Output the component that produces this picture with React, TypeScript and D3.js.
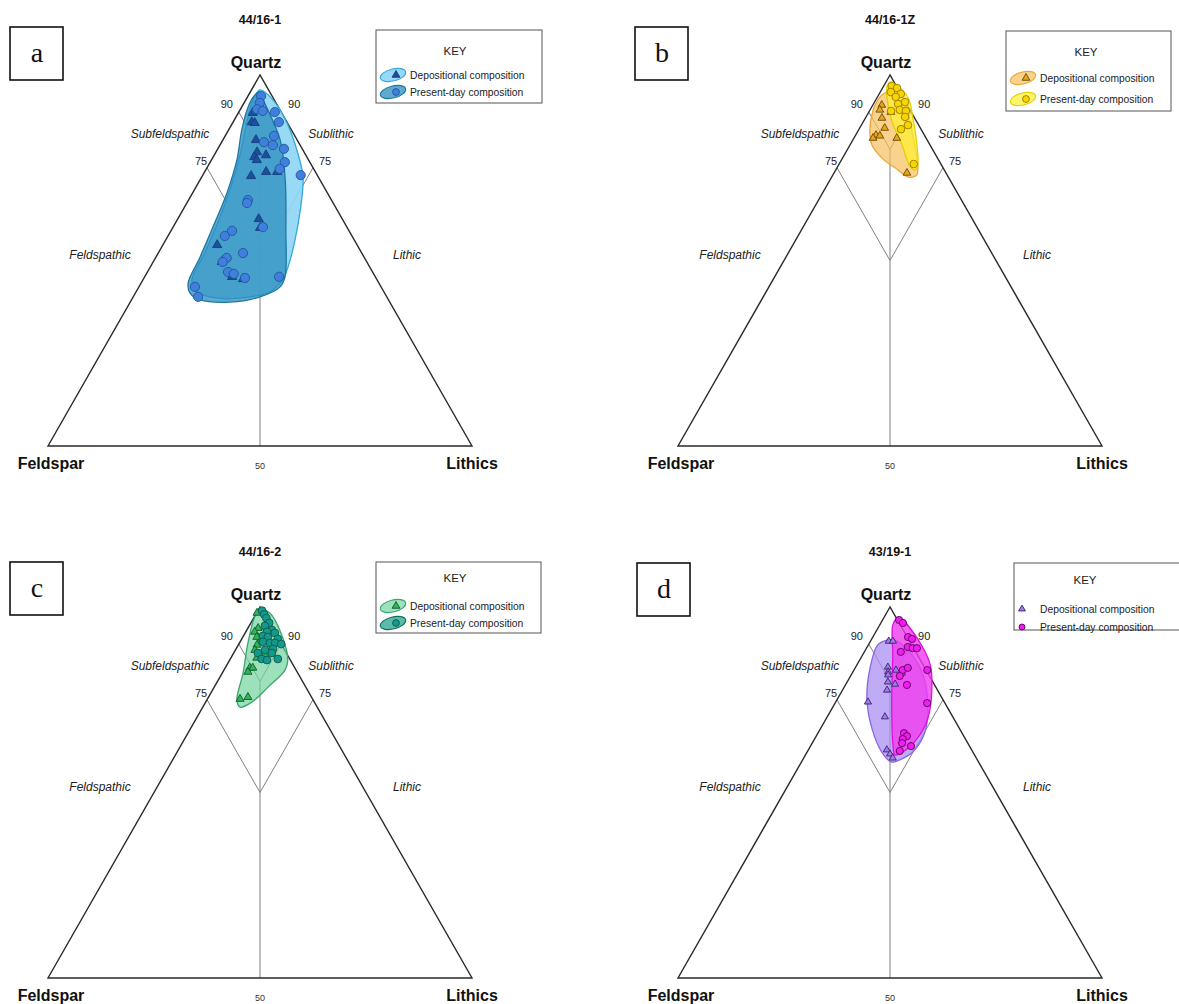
import React from 'react';
import * as d3 from 'd3';

type Tern = [number, number, number]; // Quartz %, Feldspar %, Lithics %

const titles = ['44/16-1', '44/16-1Z', '44/16-2', '43/19-1'];
const panelLetters = ['a', 'b', 'c', 'd'];
const legendLabels = ['Depositional composition', 'Present-day composition'];
const vertexLabels = ['Quartz', 'Feldspar', 'Lithics'];
const fieldLabels = ['Subfeldspathic', 'Sublithic', 'Feldspathic', 'Lithic'];
const tickLabels = ['90', '75', '50'];

// ---- Panel a: 44/16-1 ----
const aDepositional: Tern[] = [
  [89.8, 6.8, 3.4], [87.3, 8.3, 4.4], [87.1, 7.7, 5.2], [82.5, 9.7, 7.8], [79.2, 11.1, 9.7],
  [77.9, 12.4, 9.7], [77.1, 12.2, 10.7], [78.4, 9.4, 12.2], [73.9, 11.6, 14.5], [73.9, 9.0, 17.1],
  [72.8, 15.7, 11.5], [61.2, 19.7, 19.1], [58.8, 20.6, 20.6], [54.2, 33.0, 12.8], [49.6, 34.2, 16.2],
  [45.6, 33.8, 20.6], [45.0, 31.5, 23.5],
];
const aPresent: Tern[] = [
  [94.3, 2.6, 3.1], [92.5, 3.8, 3.7], [90.8, 5.3, 3.9], [90.3, 4.2, 5.5], [90.0, 1.5, 8.5],
  [87.3, 1.9, 10.8], [83.6, 4.9, 11.5], [81.9, 8.1, 10.0], [81.1, 6.4, 12.5], [80.1, 4.3, 15.6],
  [76.5, 5.9, 17.6], [74.7, 8.0, 17.3], [73.0, 3.9, 23.1], [66.3, 19.7, 14.0], [65.5, 20.3, 14.2],
  [59.0, 19.8, 21.2], [58.0, 27.6, 14.4], [56.6, 30.0, 13.4], [52.0, 28.0, 20.0], [50.7, 32.5, 16.8],
  [49.6, 34.0, 16.4], [46.9, 34.1, 19.0], [46.4, 33.0, 20.6], [45.3, 30.9, 23.8], [45.6, 22.7, 31.7],
  [42.9, 43.9, 13.2], [40.2, 44.5, 15.3],
];
const aDepEnvelope: Tern[] = [
  [96, 2, 2], [93.3, 0.3, 6.4], [87.1, 0.1, 12.8], [79, 1.6, 19.4], [72.5, 3.6, 23.9],
  [64.4, 8.2, 27.4], [55.5, 14, 30.5], [48.2, 19.3, 32.5], [44.7, 22.4, 32.9], [41.5, 26.9, 31.6],
  [40.4, 31, 28.6], [39.9, 40.6, 19.5], [42, 44.3, 13.7], [44.7, 43.7, 11.6], [52.3, 36.8, 10.9],
  [60.4, 29.7, 9.9], [69, 22.6, 8.4], [78.4, 15.5, 6.1], [86.5, 10, 3.5], [92.7, 5.5, 1.8],
];
const aPresentEnvelope: Tern[] = [
  [95.4, 2.3, 2.3], [93.3, 2.6, 4.1], [82.5, 4, 13.5], [71.7, 8.2, 20.1], [58.2, 14.8, 27],
  [45.6, 21.3, 33.1], [42.9, 23.8, 33.3], [40.2, 29.9, 29.9], [38.8, 37.7, 23.5], [39.4, 44.4, 16.2],
  [41.2, 45.9, 12.9], [43.9, 45, 11.1], [50.9, 38.7, 10.4], [59, 31.6, 9.4], [68.2, 23.7, 8.1],
  [77.1, 16.9, 6], [85.2, 11.7, 3.1], [91.4, 7.1, 1.5], [94.6, 3.9, 1.5],
];

// ---- Panel b: 44/16-1Z ----
const bDepositional: Tern[] = [
  [91.9, 6.0, 2.1], [90.6, 7.1, 2.3], [90.0, 4.8, 5.2], [88.4, 7.7, 3.9], [85.7, 8.4, 5.9],
  [83.8, 11.4, 4.8], [83.6, 10.6, 5.8], [83.0, 12.5, 4.5], [83.0, 6.9, 10.1], [73.6, 9.2, 17.2],
];
const bPresent: Tern[] = [
  [97.0, 1.1, 1.9], [96.5, 0.1, 3.4], [95.4, 2.1, 2.5], [94.9, 0, 5.1], [94.1, 1.6, 4.3],
  [92.7, 0.1, 7.2], [92.2, 2.0, 5.8], [90.3, 4.6, 5.1], [90.6, 2.4, 7.0], [90.3, 1.1, 8.6],
  [88.7, 2.1, 9.2], [86.5, 2.5, 11.0], [85.4, 4.7, 9.9], [76.0, 6.4, 17.6],
];
const bDepEnvelope: Tern[] = [
  [95.1, 3.7, 1.2], [95.7, 1.0, 3.3], [93, 0, 7], [87.6, 1.5, 10.9], [81.1, 3.6, 15.3],
  [75.5, 5.7, 18.8], [73, 7.2, 19.8], [72.5, 9.5, 18], [74.4, 10.9, 14.7], [77.6, 13.1, 9.3],
  [81.1, 13.7, 5.2], [84.9, 12.3, 2.8], [90.3, 8.9, 0.8], [94.1, 5.3, 0.6],
];
const bPresentEnvelope: Tern[] = [
  [98.1, 1.0, 0.9], [97.5, 0, 2.5], [93.8, -1.2, 7.4], [88.4, 0.4, 11.2], [81.1, 3.1, 15.8],
  [75.7, 5.6, 18.7], [74.4, 6.9, 18.7], [75.5, 7.6, 16.9], [81.1, 6.6, 12.3], [87.6, 5.8, 6.6],
  [93.8, 3.8, 2.4], [97, 2.2, 0.8],
];

// ---- Panel c: 44/16-2 ----
const cDepositional: Tern[] = [
  [98.4, 1.5, 0.1], [94.3, 3.3, 2.4], [93.3, 4.6, 2.1], [91.9, 4.8, 3.3], [90.6, 4.7, 4.7],
  [89.8, 5.8, 4.4], [88.4, 7.0, 4.6], [87.1, 5.3, 7.6], [86.3, 7.6, 6.1], [83.6, 10.6, 5.8],
  [83.6, 9.9, 6.5], [82.5, 11.6, 5.9], [75.7, 15.0, 9.3], [75.2, 17.1, 7.7],
];
const cPresent: Tern[] = [
  [99, 0, 1], [98, 0, 2], [97, 0, 3], [95.7, 0, 4.3], [94.9, 1.4, 3.7],
  [93.8, 0.3, 5.9], [93.3, 1.7, 5.0], [93, 0, 7], [92.2, 3.2, 4.6], [91.9, 2.2, 5.9],
  [91.4, 0.1, 8.5], [90.6, 4.0, 5.4], [90.3, 2.5, 7.2], [90.3, 1.3, 8.4], [90, 0, 10],
  [88.7, 2.6, 8.7], [88.4, 4.6, 7.0], [87.6, 6.7, 5.7], [87.6, 3.4, 9.0], [86, 6.6, 7.4],
  [85.7, 5.5, 8.8], [86, 2.8, 11.2],
];
const cDepEnvelope: Tern[] = [
  [99.2, 0.4, 0.4], [98.4, -1.5, 3.1], [91.6, -1.2, 9.6], [85.7, 0.6, 13.7], [83, 2.6, 14.4],
  [78.4, 8.9, 12.7], [74.4, 14.7, 10.9], [73, 18.2, 8.8], [74.9, 18.0, 7.1], [82.2, 12.9, 4.9],
  [90.3, 7.7, 2], [97.3, 2.6, 0.1],
];

// ---- Panel d: 43/19-1 ----
const dDepositional: Tern[] = [
  [90.8, 4.9, 4.3], [90.8, 3.9, 5.3], [83.8, 8.6, 7.6], [82.5, 9.2, 8.3], [81.7, 9.6, 8.7],
  [83, 7.1, 9.9], [82.2, 6.1, 11.7], [79.8, 10.6, 9.6], [79.2, 9.2, 11.6], [77.6, 11.9, 10.5],
  [74.4, 18, 7.6], [70.4, 16, 13.6], [61.5, 20.0, 18.5], [60.4, 19.8, 19.8], [59.3, 19.7, 21.0],
];
const dPresent: Tern[] = [
  [96.5, -0.4, 3.9], [95.7, -0.9, 5.2], [91.9, -0.2, 8.3], [91.4, -0.9, 9.5], [89.2, 1.2, 9.6],
  [88.9, 0.2, 10.9], [88.9, -0.8, 11.9], [87.9, 3.5, 8.6], [83, -0.3, 17.3], [83, 5.5, 11.5],
  [83.6, 4.0, 12.4], [81.4, 7.0, 11.6], [79, 6.5, 14.5], [74.1, 4.2, 21.7], [66, 13.7, 20.3],
  [65.2, 13.4, 21.4], [64.4, 14.8, 20.8], [62.5, 13.8, 23.7], [63.3, 15.5, 21.2], [61.2, 17.1, 21.7],
];
const dDepEnvelope: Tern[] = [
  [91.1, 5.2, 3.7], [91.1, 3.3, 5.6], [88.4, 1.6, 10.0], [82.5, 1.2, 16.3], [74.4, 3.9, 21.7],
  [66.3, 8.6, 25.1], [60.9, 14.2, 24.9], [58.8, 18.3, 22.9], [58.2, 20.5, 21.3], [60.9, 21.5, 17.6],
  [67.4, 20.6, 12.0], [75.5, 17.7, 6.8], [83.6, 12.9, 3.5], [89.8, 8.0, 2.2],
];
const dPresentEnvelope: Tern[] = [
  [97, -0.2, 3.2], [97, -0.9, 3.9], [91.6, -2.2, 10.6], [84.4, -1.7, 17.3], [77.1, 1.6, 21.3],
  [70.1, 6, 23.9], [64.7, 11.1, 24.2], [60.9, 16.5, 22.6], [60.1, 18.8, 21.1], [62.8, 17.9, 19.3],
  [73.6, 12.8, 13.6], [87.1, 5.8, 7.1], [95.1, 1.8, 3.1],
];

// Classification boundaries (ternary)
const triangleOutline: Tern[] = [[100, 0, 0], [0, 100, 0], [0, 0, 100]];
const boundaries: [Tern, Tern][] = [
  [[90, 10, 0], [80, 10, 10]],
  [[90, 0, 10], [80, 10, 10]],
  [[75, 25, 0], [50, 25, 25]],
  [[75, 0, 25], [50, 25, 25]],
  [[80, 10, 10], [0, 50, 50]],
];

// ---- geometry (panel-local coordinates) ----
const APEX_Y = 75, BASE_Y = 446, CX = 260, HALF = 212;
const yScale = d3.scaleLinear().domain([0, 100]).range([BASE_Y, APEX_Y]);
const xScale = d3.scaleLinear().domain([-100, 100]).range([CX - HALF, CX + HALF]);
const px = (t: Tern) => xScale(t[2] - t[1]);
const py = (t: Tern) => yScale(t[0]);
const envLine = d3.line<Tern>().x(px).y(py).curve(d3.curveCatmullRomClosed.alpha(0.5));
const polyLine = d3.line<Tern>().x(px).y(py);

interface Style {
  depFill: string; depOp: number; depStroke: string;
  presFill: string; presOp: number; presStroke: string;
  triFill: string; triStroke: string; cirFill: string; cirStroke: string;
  r: number; tri: number;
}

interface PanelCfg {
  ox: number; oy: number; idx: number;
  dep: Tern[]; pres: Tern[]; depEnv: Tern[] | null; presEnv: Tern[] | null;
  style: Style;
  letterBox: [number, number];
  legend: { x: number; y: number; w: number; h: number; keyY: number; keyX: number; rows: [number, number]; swatch: boolean; textX: number };
}

const panels: PanelCfg[] = [
  {
    ox: 0, oy: 0, idx: 0, dep: aDepositional, pres: aPresent, depEnv: aDepEnvelope, presEnv: aPresentEnvelope,
    style: {
      depFill: '#8fd6f4', depOp: 0.92, depStroke: '#35a9dd',
      presFill: '#2a8cbd', presOp: 0.75, presStroke: '#1d77a3',
      triFill: '#1d4f9e', triStroke: '#173d7a', cirFill: '#3f80dc', cirStroke: '#24539f', r: 4.6, tri: 36,
    },
    letterBox: [10, 27],
    legend: { x: 376, y: 30, w: 166, h: 73, keyY: 55, keyX: 455, rows: [75, 92], swatch: true, textX: 410 },
  },
  {
    ox: 630, oy: 0, idx: 1, dep: bDepositional, pres: bPresent, depEnv: bDepEnvelope, presEnv: bPresentEnvelope,
    style: {
      depFill: '#f6bf5e', depOp: 0.7, depStroke: '#e8a838',
      presFill: '#fff02e', presOp: 0.7, presStroke: '#e2d000',
      triFill: '#e8a41c', triStroke: '#6b4a00', cirFill: '#f7d600', cirStroke: '#9a7a00', r: 3.8, tri: 26,
    },
    letterBox: [5, 27],
    legend: { x: 376, y: 31, w: 165, h: 80, keyY: 56, keyX: 456, rows: [78, 99], swatch: true, textX: 410 },
  },
  {
    ox: 0, oy: 532, idx: 2, dep: cDepositional, pres: cPresent, depEnv: cDepEnvelope, presEnv: null,
    style: {
      depFill: '#74d39f', depOp: 0.7, depStroke: '#3aa56c',
      presFill: '#1a9c84', presOp: 0.7, presStroke: '#0f6e5c',
      triFill: '#2fb657', triStroke: '#11582a', cirFill: '#14998a', cirStroke: '#0c5a50', r: 3.9, tri: 28,
    },
    letterBox: [10, 30],
    legend: { x: 376, y: 30, w: 165, h: 71, keyY: 50, keyX: 455, rows: [74, 91], swatch: true, textX: 410 },
  },
  {
    ox: 630, oy: 532, idx: 3, dep: dDepositional, pres: dPresent, depEnv: dDepEnvelope, presEnv: dPresentEnvelope,
    style: {
      depFill: '#a88cf2', depOp: 0.72, depStroke: '#8a66e6',
      presFill: '#f03cf0', presOp: 0.8, presStroke: '#e010e0',
      triFill: '#a37ae6', triStroke: '#3a2070', cirFill: '#f01cf0', cirStroke: '#5a005a', r: 3.6, tri: 22,
    },
    letterBox: [7, 31],
    legend: { x: 384, y: 31, w: 175, h: 67, keyY: 52, keyX: 455, rows: [77, 95], swatch: false, textX: 410 },
  },
];

const FONT = 'Arial, "Liberation Sans", Helvetica, sans-serif';

function Triangle({ x, y, size, fill, stroke }: { x: number; y: number; size: number; fill: string; stroke: string }) {
  const d = d3.symbol().type(d3.symbolTriangle).size(size)() as string;
  return <path d={d} transform={`translate(${x},${y})`} fill={fill} stroke={stroke} strokeWidth={0.9} />;
}

function Panel({ cfg }: { cfg: PanelCfg }) {
  const s = cfg.style;
  const lg = cfg.legend;
  const q90: Tern = [90, 10, 0];
  const q90r: Tern = [90, 0, 10];
  const q75: Tern = [75, 25, 0];
  const q75r: Tern = [75, 0, 25];
  return (
    <g transform={`translate(${cfg.ox},${cfg.oy})`}>
      {/* title */}
      <text x={CX} y={24} textAnchor="middle" fontFamily={FONT} fontWeight="bold" fontSize={12.5} fill="#111">
        {titles[cfg.idx]}
      </text>
      {/* letter box */}
      <rect x={cfg.letterBox[0]} y={cfg.letterBox[1]} width={53} height={53} fill="#fff" stroke="#111" strokeWidth={1.6} />
      <text x={cfg.letterBox[0] + 27} y={cfg.letterBox[1] + 35} textAnchor="middle"
        fontFamily='"Liberation Serif", "DejaVu Serif", serif' fontSize={28} fill="#111">
        {panelLetters[cfg.idx]}
      </text>

      {/* classification boundaries */}
      {boundaries.map((b, i) => (
        <line key={i} x1={px(b[0])} y1={py(b[0])} x2={px(b[1])} y2={py(b[1])} stroke="#808080" strokeWidth={1} />
      ))}
      {/* triangle */}
      <path d={polyLine(triangleOutline) + 'Z'} fill="none" stroke="#2a2a2a" strokeWidth={1.4} strokeLinejoin="miter" />

      {/* envelopes */}
      {cfg.depEnv && (
        <path d={envLine(cfg.depEnv) as string} fill={s.depFill} fillOpacity={s.depOp} stroke={s.depStroke} strokeWidth={1.3} />
      )}
      {cfg.presEnv && (
        <path d={envLine(cfg.presEnv) as string} fill={s.presFill} fillOpacity={s.presOp} stroke={s.presStroke} strokeWidth={1.3} />
      )}

      {/* points */}
      {cfg.dep.map((t, i) => (
        <Triangle key={'t' + i} x={px(t)} y={py(t)} size={s.tri} fill={s.triFill} stroke={s.triStroke} />
      ))}
      {cfg.pres.map((t, i) => (
        <circle key={'c' + i} cx={px(t)} cy={py(t)} r={s.r} fill={s.cirFill} stroke={s.cirStroke} strokeWidth={0.9} />
      ))}

      {/* vertex labels */}
      <text x={256} y={68} textAnchor="middle" fontFamily={FONT} fontWeight="bold" fontSize={16} fill="#111">{vertexLabels[0]}</text>
      <text x={51} y={469} textAnchor="middle" fontFamily={FONT} fontWeight="bold" fontSize={16} fill="#111">{vertexLabels[1]}</text>
      <text x={472} y={469} textAnchor="middle" fontFamily={FONT} fontWeight="bold" fontSize={16} fill="#111">{vertexLabels[2]}</text>
      <text x={CX} y={469} textAnchor="middle" fontFamily={FONT} fontSize={9} fill="#333">{tickLabels[2]}</text>

      {/* tick labels */}
      <text x={px(q90) - 12} y={py(q90) - 4} textAnchor="middle" fontFamily={FONT} fontSize={11} fill="#222">{tickLabels[0]}</text>
      <text x={px(q90r) + 13} y={py(q90r) - 4} textAnchor="middle" fontFamily={FONT} fontSize={11} fill="#222">{tickLabels[0]}</text>
      <text x={px(q75) - 6} y={py(q75) - 3} textAnchor="middle" fontFamily={FONT} fontSize={11} fill="#222">{tickLabels[1]}</text>
      <text x={px(q75r) + 12} y={py(q75r) - 3} textAnchor="middle" fontFamily={FONT} fontSize={11} fill="#222">{tickLabels[1]}</text>

      {/* field labels */}
      <text x={170} y={138} textAnchor="middle" fontFamily={FONT} fontStyle="italic" fontSize={12} fill="#222">{fieldLabels[0]}</text>
      <text x={331} y={138} textAnchor="middle" fontFamily={FONT} fontStyle="italic" fontSize={12} fill="#222">{fieldLabels[1]}</text>
      <text x={100} y={259} textAnchor="middle" fontFamily={FONT} fontStyle="italic" fontSize={12} fill="#222">{fieldLabels[2]}</text>
      <text x={407} y={259} textAnchor="middle" fontFamily={FONT} fontStyle="italic" fontSize={12} fill="#222">{fieldLabels[3]}</text>

      {/* legend */}
      <rect x={lg.x} y={lg.y} width={lg.w} height={lg.h} fill="#fff" stroke="#555" strokeWidth={1} />
      <text x={lg.keyX} y={lg.keyY} textAnchor="middle" fontFamily={FONT} fontSize={11.5} fill="#222">KEY</text>
      {lg.rows.map((ry, i) => {
        const isDep = i === 0;
        const mx = lg.swatch ? lg.x + 20 : lg.x + 8;
        return (
          <g key={i}>
            {lg.swatch && (
              <ellipse cx={lg.x + 17} cy={ry} rx={13} ry={6} transform={`rotate(-14,${lg.x + 17},${ry})`}
                fill={isDep ? s.depFill : s.presFill} fillOpacity={isDep ? s.depOp : s.presOp}
                stroke={isDep ? s.depStroke : s.presStroke} strokeWidth={1.1} />
            )}
            {isDep
              ? <Triangle x={mx} y={ry} size={lg.swatch ? 26 : 20} fill={s.triFill} stroke={s.triStroke} />
              : <circle cx={mx} cy={ry} r={lg.swatch ? 3.4 : 3} fill={s.cirFill} stroke={s.cirStroke} strokeWidth={0.9} />}
            <text x={lg.textX} y={ry + 3.5} fontFamily={FONT} fontSize={10.3} fill="#222">{legendLabels[i]}</text>
          </g>
        );
      })}
    </g>
  );
}

export default function App() {
  return (
    <svg width={1179} height={1004} style={{ position: 'absolute', left: 0, top: 0, background: '#fff' }}
      xmlns="http://www.w3.org/2000/svg">
      <rect x={0} y={0} width={1179} height={1004} fill="#fff" />
      {panels.map(p => <Panel key={p.idx} cfg={p} />)}
    </svg>
  );
}
